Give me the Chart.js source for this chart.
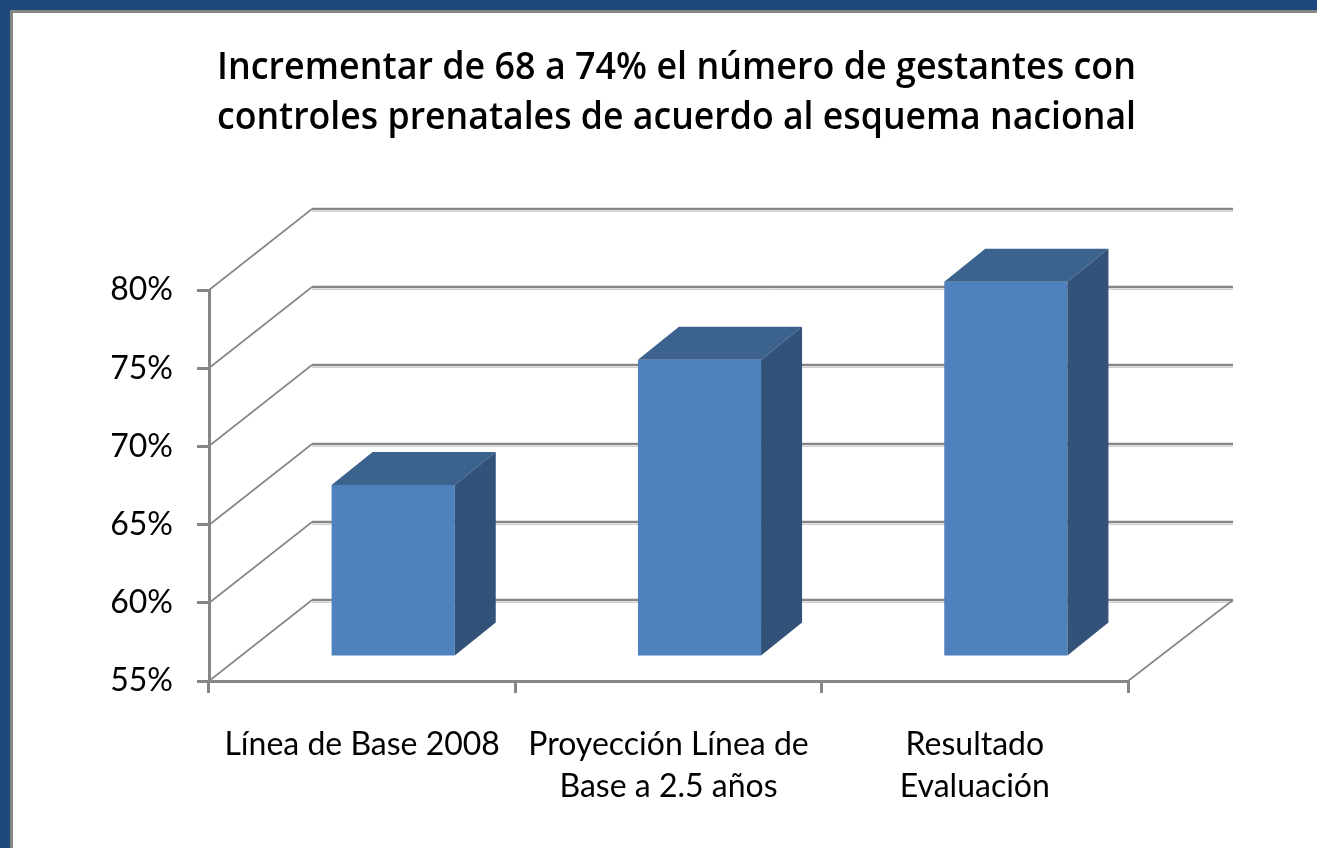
<!DOCTYPE html>
<html>
<head>
<meta charset="utf-8">
<script src="https://cdn.jsdelivr.net/npm/chart.js@4"></script>
<style>
  html, body { margin: 0; padding: 0; background: #ffffff; overflow: hidden; }
  #wrap { position: absolute; left: 0; top: 0; width: 1317px; height: 848px; }
  #c { position: absolute; left: 0; top: 0; }
  .bl { position: absolute; background: #1F497D; }
  .gr { position: absolute; background: #878787; }
</style>
</head>
<body>
<div id="wrap">
  <canvas id="c" width="1317" height="848"></canvas>
  <div class="bl" style="left:0;top:0;width:1317px;height:10px;"></div>
  <div class="bl" style="left:0;top:0;width:10px;height:848px;"></div>
  <div class="gr" style="left:10px;top:10px;width:1307px;height:3px;"></div>
  <div class="gr" style="left:10px;top:10px;width:3px;height:838px;"></div>
</div>
<script>
// ---- data ----
const titleLines = [
  "Incrementar de 68 a 74% el número de gestantes con",
  "controles prenatales de acuerdo al esquema nacional"
];
const categories = [
  ["Línea de Base 2008"],
  ["Proyección Línea de", "Base a 2.5 años"],
  ["Resultado", "Evaluación"]
];
const values = [66, 74, 79];
const yMin = 55;
const yMax = 80;
const yStep = 5;

// ---- 3D geometry (style) ----
const WALL = { dx: 103, dy: -81 };     // back wall offset
const BARPLANE = { dx: 31, dy: -24 };  // bar front plane offset
const DEPTH = { dx: 41, dy: -33 };     // bar depth
const FRONT = '#4F81BD', TOP = '#3C628E', SIDE = '#32527A';
const GRID = '#868686', GRIDSHADOW = '#cfcfcf';
const FONT = 'Lato, "Open Sans", "Liberation Sans", sans-serif';
const TFONT = '"Open Sans", Lato, "Liberation Sans", sans-serif';

const threeD = {
  id: 'threeD',
  beforeDatasetsDraw(chart) {
    const ctx = chart.ctx, ys = chart.scales.y, a = chart.chartArea;
    ctx.save();
    ys.ticks.forEach(t => {
      const y = Math.round(ys.getPixelForValue(t.value));
      ctx.lineWidth = 1;
      ctx.strokeStyle = GRIDSHADOW;
      ctx.beginPath();
      ctx.moveTo(a.left + WALL.dx, y + WALL.dy + 2.5);
      ctx.lineTo(a.right + WALL.dx + 2, y + WALL.dy + 2.5);
      ctx.stroke();
      ctx.lineWidth = 2.5;
      ctx.strokeStyle = GRID;
      ctx.beginPath();
      ctx.moveTo(a.left + WALL.dx, y + WALL.dy);
      ctx.lineTo(a.right + WALL.dx + 2, y + WALL.dy);
      ctx.stroke();
      ctx.lineWidth = 1.6;
      ctx.beginPath();
      ctx.moveTo(a.left, y);
      ctx.lineTo(a.left + WALL.dx, y + WALL.dy);
      ctx.stroke();
    });
    const yb = Math.round(ys.getPixelForValue(yMin));
    ctx.lineWidth = 1.6;
    ctx.strokeStyle = GRID;
    ctx.beginPath();
    ctx.moveTo(a.right, yb);
    ctx.lineTo(a.right + WALL.dx + 2, yb + WALL.dy);
    ctx.stroke();
    ctx.restore();
  },
  beforeDatasetDraw(chart) {
    chart.ctx.save();
    chart.ctx.translate(BARPLANE.dx, BARPLANE.dy);
  },
  afterDatasetDraw(chart, args) {
    const ctx = chart.ctx;
    args.meta.data.forEach(bar => {
      const p = bar.getProps(['x', 'y', 'base', 'width'], true);
      const L = p.x - p.width / 2, R = p.x + p.width / 2, T = p.y, B = p.base;
      ctx.fillStyle = TOP;
      ctx.beginPath();
      ctx.moveTo(L, T);
      ctx.lineTo(L + DEPTH.dx, T + DEPTH.dy);
      ctx.lineTo(R + DEPTH.dx, T + DEPTH.dy);
      ctx.lineTo(R, T);
      ctx.closePath();
      ctx.fill();
      ctx.fillStyle = SIDE;
      ctx.beginPath();
      ctx.moveTo(R, T);
      ctx.lineTo(R + DEPTH.dx, T + DEPTH.dy);
      ctx.lineTo(R + DEPTH.dx, B + DEPTH.dy);
      ctx.lineTo(R, B);
      ctx.closePath();
      ctx.fill();
    });
    ctx.restore();
  },
  afterLayout(chart) {
    const t = chart.titleBlock;
    if (t) { t.left += 8; t.right += 8; }
  }
};

new Chart(document.getElementById('c'), {
  type: 'bar',
  data: {
    labels: categories,
    datasets: [{
      data: values,
      base: yMin,
      backgroundColor: FRONT,
      borderWidth: 0,
      categoryPercentage: 1,
      barPercentage: 0.402,
      clip: false
    }]
  },
  options: {
    responsive: false,
    animation: false,
    events: [],
    layout: { padding: { top: 15, right: 189, bottom: 0, left: 0 } },
    plugins: {
      legend: { display: false },
      tooltip: { enabled: false },
      title: {
        display: true,
        text: titleLines,
        fullSize: false,
        color: '#000000',
        font: { family: TFONT, size: 37, weight: '600', lineHeight: 50 / 37 },
        padding: { top: 28, bottom: 147 }
      }
    },
    scales: {
      x: {
        afterFit(s) { s.height = 167; },
        grid: { drawOnChartArea: false, drawTicks: true, tickLength: 12, color: GRID, lineWidth: 3, offset: true },
        border: { display: true, color: GRID, width: 3 },
        ticks: { color: '#000000', padding: 31, maxRotation: 0, autoSkip: false,
                 font: { family: FONT, size: 32, lineHeight: 42 / 32 } }
      },
      y: {
        min: yMin, max: yMax,
        afterFit(s) { s.width = 209; },
        grid: { drawOnChartArea: false, drawTicks: true, tickLength: 12, color: GRID, lineWidth: 3 },
        border: { display: true, color: GRID, width: 3 },
        ticks: { stepSize: yStep, color: '#000000', padding: 24,
                 callback: v => v + '%',
                 font: { family: FONT, size: 32 } }
      }
    }
  },
  plugins: [threeD]
});
</script>
</body>
</html>
